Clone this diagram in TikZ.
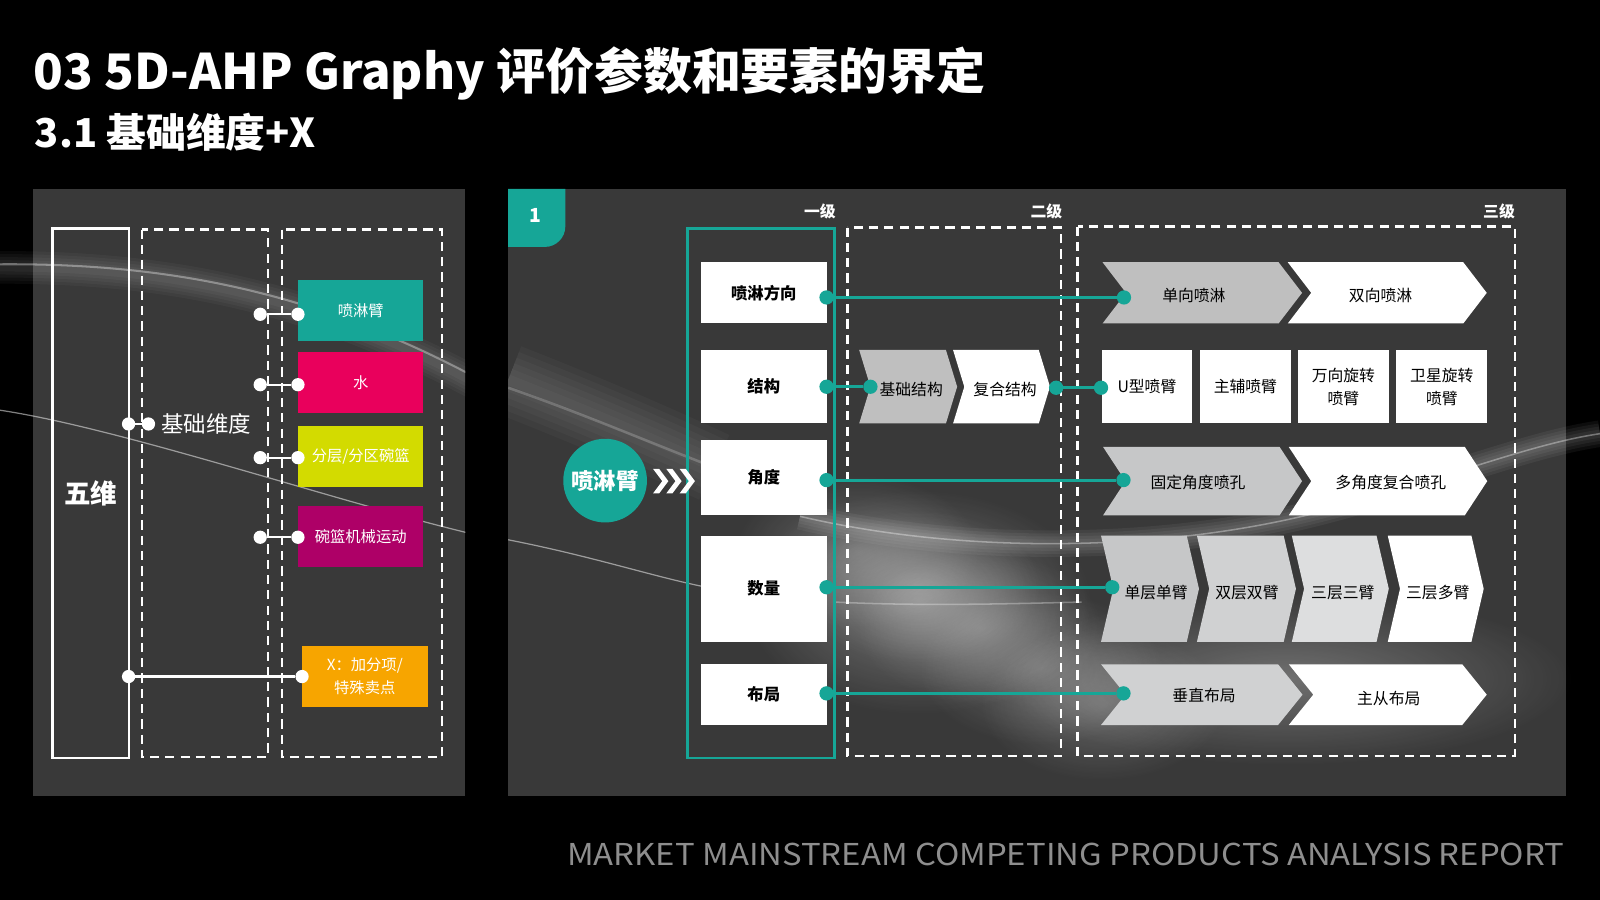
\documentclass[tikz,border=0pt]{standalone}
\usepackage{graphicx}
\usepackage{fontspec}
\setmainfont{Noto Sans CJK SC}
\usetikzlibrary{fadings}
\definecolor{panelc}{HTML}{393939}
\definecolor{tealc}{HTML}{16A697}
\definecolor{pinkc}{HTML}{E9005C}
\definecolor{yelc}{HTML}{D3DB00}
\definecolor{magc}{HTML}{AE0067}
\definecolor{orgc}{HTML}{F7A500}
\definecolor{footc}{HTML}{8E8E8E}
\definecolor{gA}{HTML}{BFBFBF}
\definecolor{gB}{HTML}{C6C7C8}
\definecolor{gC}{HTML}{D0D1D2}
\definecolor{gD}{HTML}{DDDEDF}
\tikzfading[name=glowfade, inner color=transparent!0, outer color=transparent!100]
\newcommand\fs[2]{\fontsize{#1}{#2}\selectfont}
\newcommand\chv[6]{\fill[#6] (#1,#3) -- ({#2-#5},#3) -- (#2,{(#3+#4)/2}) -- ({#2-#5},#4) -- (#1,#4) -- ({#1+#5},{(#3+#4)/2}) -- cycle;}
\tikzset{
 wdot/.style={circle, fill=white, inner sep=0pt, minimum size=13pt},
 tdot/.style={circle, fill=tealc, inner sep=0pt, minimum size=14pt},
 wline/.style={white, line width=2.2pt},
 tline/.style={tealc, line width=3pt},
 dashbox/.style={white, line width=2.2pt, dash pattern=on 9pt off 6pt},
 colbox/.style={inner sep=0pt, minimum width=123pt, minimum height=60pt, text=white, font=\fs{15}{22}},
 wbox/.style={fill=white, inner sep=0pt, minimum width=123pt, font=\fs{16}{20}\bfseries, text=black},
 wsq/.style={fill=white, inner sep=0pt, minimum width=89pt, minimum height=72pt, font=\fs{15.5}{23}, align=center, text=black},
 ctxt/.style={inner sep=0pt, font=\fs{15.5}{19}, text=black},
 lvl/.style={inner sep=0pt, font=\fs{15.5}{19}\bfseries, text=white},
 glow/.style={white, path fading=glowfade},
}
\begin{document}
\begin{tikzpicture}[x=1pt,y=-1pt]
\useasboundingbox (0,0) rectangle (1568,882);
\fill[black] (0,0) rectangle (1568,882);
% panels
\fill[panelc] (32,185) rectangle (456,780);
\fill[panelc] (498,185) rectangle (1535,780);
% background light, left side
\begin{scope}
\clip (0,185) rectangle (456,780);
\foreach \w in {32,26,20,14,8}
  \draw[white, opacity=0.035, line width=\w pt] (0,262) .. controls (150,262) and (300,285) .. (470,378);
\draw[white, opacity=0.35, line width=2pt] (0,259) .. controls (150,258) and (300,280) .. (470,372);
\draw[white, opacity=0.5, line width=1.2pt] (0,402) .. controls (120,420) and (330,492) .. (470,525);
\end{scope}
% background light, right side
\begin{scope}
\clip (498,185) rectangle (1568,780);
\fill[glow, opacity=0.3] (900,590) ellipse (170 and 110);
\foreach \cx/\cy in {840/540, 900/575, 960/615, 1020/655, 1080/690}
  \fill[glow, opacity=0.22] (\cx,\cy) ellipse (120 and 75);
\fill[glow, opacity=0.28] (1260,665) ellipse (280 and 85);
\foreach \w in {70,58,46,34,22,10}
  \draw[white, opacity=0.028, line width=\w pt] (498,372) .. controls (570,400) and (640,430) .. (700,458);
\draw[white, opacity=0.2, line width=2.5pt] (498,380) .. controls (570,405) and (640,435) .. (700,458);
\draw[white, opacity=0.5, line width=1.2pt] (498,529) .. controls (580,545) and (640,565) .. (690,575);
\foreach \w in {26,20,14,8}
  \draw[white, opacity=0.05, line width=\w pt] (784,506) .. controls (950,545) and (1150,540) .. (1300,500) .. controls (1420,468) and (1500,435) .. (1568,425);
\draw[white, opacity=0.35, line width=1.5pt] (784,506) .. controls (950,545) and (1150,540) .. (1300,500) .. controls (1420,468) and (1500,435) .. (1568,425);
\draw[white, opacity=0.3, line width=1.5pt] (818,590) .. controls (900,594) and (980,592) .. (1060,590);
\end{scope}
% title
\node[anchor=base west, inner sep=0pt, text=white, font=\fs{48}{56}\bfseries] (title) at (33,87.5) {03 5D-AHP Graphy 评价参数和要素的界定};
\node[anchor=base west, inner sep=0pt, text=white, font=\fs{39}{46}\bfseries] (sub) at (34,144.7) {3.1 基础维度+X};
% left panel
\node[draw=white, line width=2.5pt, inner sep=0pt, minimum width=75pt, minimum height=519pt, text=white, font=\fs{26}{30}\bfseries] (wuwei) at (89,483.5) {五维};
\draw[dashbox] (139,225) rectangle (262.5,742);
\draw[dashbox] (276,225) rectangle (433,742);
\node[wdot] (b1) at (126,415.5) {};
\node[wdot] (b2) at (145.5,415.5) {};
\draw[wline] (b1) -- (b2);
\node[anchor=west, inner sep=0pt, text=white, font=\fs{22}{26}] (jc) at (158,415.5) {基础维度};
\node[colbox, fill=tealc] (c1) at (353.5,304) {喷淋臂};
\node[colbox, fill=pinkc] (c2) at (353.5,375) {水};
\node[colbox, fill=yelc] (c3) at (353.5,447) {分层/分区碗篮};
\node[colbox, fill=magc] (c4) at (353.5,526) {碗篮机械运动};
\node[colbox, fill=orgc, align=center] (c5) at (357.5,663) {X：加分项/\\特殊卖点};
\node[wdot] (p1) at (255,308) {}; \node[wdot] (q1) at (292,308) {}; \draw[wline] (p1) -- (q1);
\node[wdot] (p2) at (255,377) {}; \node[wdot] (q2) at (292,377) {}; \draw[wline] (p2) -- (q2);
\node[wdot] (p3) at (255,448.5) {}; \node[wdot] (q3) at (292,448.5) {}; \draw[wline] (p3) -- (q3);
\node[wdot] (p4) at (255,526.5) {}; \node[wdot] (q4) at (292,526.5) {}; \draw[wline] (p4) -- (q4);
\node[wdot] (p5) at (126,663) {}; \node[wdot] (q5) at (296,663) {}; \draw[wline] (p5) -- (q5);
% right panel
\fill[tealc] (498,185) -- (554,185) -- (554,222) .. controls (554,233) and (545,242) .. (534,242) -- (498,242) -- cycle;
\node[inner sep=0pt, text=white, font=\fs{19}{22}\bfseries] (one) at (524.5,211) {1};
\node[lvl] (lv1) at (803.5,207.5) {一级};
\node[lvl] (lv2) at (1025.5,207) {二级};
\node[lvl] (lv3) at (1469,207) {三级};
\draw[tealc, line width=2.5pt] (674,224) rectangle (818,743);
\draw[dashbox] (830.5,223) rectangle (1040,741);
\draw[dashbox] (1056,222) rectangle (1484.5,741);
\node[wbox, minimum height=60pt] (n1) at (748.5,287) {喷淋方向};
\node[wbox, minimum height=72pt] (n2) at (748.5,379) {结构};
\node[wbox, minimum height=73pt] (n3) at (748.5,468) {角度};
\node[wbox, minimum height=104pt] (n4) at (748.5,577) {数量};
\node[wbox, minimum height=60pt] (n5) at (748.5,680.5) {布局};
\node[circle, fill=tealc, minimum size=82pt, inner sep=0pt, text=white, font=\fs{22}{26}\bfseries] (arm) at (593,471) {喷淋臂};
\foreach \i in {0,1,2} {
  \fill[white] ({640+13*\i},459.5) -- ({646+13*\i},459.5) -- ({655+13*\i},471.5) -- ({646+13*\i},483.5) -- ({640+13*\i},483.5) -- ({649+13*\i},471.5) -- cycle;
}
% chevrons
\chv{1080.5}{1276}{257}{317}{23}{gA}
\chv{1262}{1457}{257}{317}{23}{white}
\node[ctxt] (t11) at (1170,290) {单向喷淋};
\node[ctxt] (t12) at (1353,290) {双向喷淋};
\chv{842}{938}{343}{415}{11}{gA}
\chv{934}{1029}{343}{415}{11}{white}
\node[ctxt] (t21) at (893,382) {基础结构};
\node[ctxt] (t22) at (985,382) {复合结构};
\node[wsq] (u1) at (1124,379) {U型喷臂};
\node[wsq] (u2) at (1220.5,379) {主辅喷臂};
\node[wsq] (u3) at (1316.5,379) {万向旋转\\喷臂};
\node[wsq] (u4) at (1413,379) {卫星旋转\\喷臂};
\chv{1081}{1276}{438}{505}{22}{gB}
\chv{1263}{1457.5}{438}{505}{22}{white}
\node[ctxt] (t31) at (1174,473) {固定角度喷孔};
\node[ctxt] (t32) at (1363,473) {多角度复合喷孔};
\chv{1079}{1175}{525}{629}{12}{gB}
\chv{1173}{1270}{525}{629}{12}{gC}
\chv{1266}{1361}{525}{629}{12}{gD}
\chv{1360}{1454}{525}{629}{12}{white}
\node[ctxt] (t41) at (1133,581) {单层单臂};
\node[ctxt] (t42) at (1222,581) {双层双臂};
\node[ctxt] (t43) at (1316,581) {三层三臂};
\node[ctxt] (t44) at (1409,581) {三层多臂};
\chv{1079}{1276.5}{651}{710.5}{24}{gC}
\chv{1263}{1457}{651}{710.5}{24}{white}
\node[ctxt] (t51) at (1180,682) {垂直布局};
\node[ctxt] (t52) at (1361,685) {主从布局};
% teal connectors
\node[tdot] (d1) at (810,291.5) {}; \node[tdot] (e1) at (1101.5,291.5) {};
\node[tdot] (d2) at (810,379) {}; \node[tdot] (f2) at (853,379) {};
\node[tdot] (g2) at (1035,380) {}; \node[tdot] (h2) at (1079,380) {};
\node[tdot] (d3) at (810,470.5) {}; \node[tdot] (e3) at (1101,470.5) {};
\node[tdot] (d4) at (810,575.5) {}; \node[tdot] (e4) at (1090,575.5) {};
\node[tdot] (d5) at (810,679.5) {}; \node[tdot] (e5) at (1101,679.5) {};
\draw[tline] (d1) -- (e1);
\draw[tline] (d2) -- (f2);
\draw[tline] (g2) -- (h2);
\draw[tline] (d3) -- (e3);
\draw[tline] (d4) -- (e4);
\draw[tline] (d5) -- (e5);
% footer
\node[anchor=south west, inner sep=0pt, text=footc] (foot) at (555.7,848.7) {\resizebox{977pt}{22pt}{MARKET MAINSTREAM COMPETING PRODUCTS ANALYSIS REPORT}};
\end{tikzpicture}
\end{document}
